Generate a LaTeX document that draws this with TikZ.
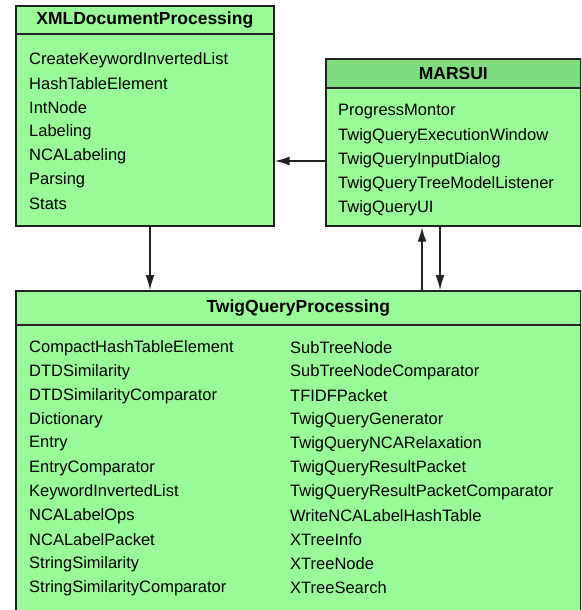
\documentclass[tikz,border=0pt]{standalone}
\usepackage{fontspec}
\setmainfont{Liberation Sans}
\usetikzlibrary{arrows.meta}
\definecolor{pkgfill}{HTML}{98FB98}
\definecolor{pkghead}{HTML}{7EDD7E}
\definecolor{pkgline}{HTML}{222222}
\tikzset{
pkg_box/.style={
	% The shape:
	rectangle,
	anchor=north west,
	inner sep=0pt,
	% The border:
	line width=1.6pt,
	draw=pkgline,
	% The filling:
	fill=pkgfill,
	% Font for the package name
	font=\bfseries\fontsize{17.5}{19}\selectfont
},
pkg_item/.style={anchor=west, inner sep=0pt, font=\fontsize{16.5}{18}\selectfont},
dep/.style={line width=1.6pt, draw=pkgline, -{Latex[length=15pt,width=9pt]}}
}

\begin{document}
\begin{tikzpicture}[x=1pt, y=-1pt]
			\path[use as bounding box, clip] (0,0) rectangle (581,610);

			% XMLDocumentProcessing
			\node[pkg_box, minimum width=258pt, minimum height=28pt] (xmlhead) at (15,5) {XMLDocumentProcessing};
			\node[pkg_box, minimum width=258pt, minimum height=192pt] (xmlbody) at (15,33) {};
			\foreach \name [count=\i] in {CreateKeywordInvertedList, HashTableElement, IntNode,
				Labeling, NCALabeling, Parsing, Stats}
				\node[pkg_item] (xml-\i) at (29, 36+24*\i) {\name};

			% MARSUI
			\node[pkg_box, fill=pkghead, minimum width=255pt, minimum height=29pt] (uihead) at (325,58) {MARSUI};
			\node[pkg_box, minimum width=255pt, minimum height=138pt] (uibody) at (325,87) {};
			\foreach \name [count=\i] in {ProgressMontor, TwigQueryExecutionWindow, TwigQueryInputDialog,
				TwigQueryTreeModelListener, TwigQueryUI}
				\node[pkg_item] (ui-\i) at (338, 88+24*\i) {\name};

			% TwigQueryProcessing, runs off the bottom
			\node[pkg_box, minimum width=565pt, minimum height=34pt] (twighead) at (15,290) {TwigQueryProcessing};
			\node[pkg_box, minimum width=565pt, minimum height=300pt] (twigbody) at (15,324) {};
			\foreach \name [count=\i] in {CompactHashTableElement, DTDSimilarity, DTDSimilarityComparator,
				Dictionary, Entry, EntryComparator, KeywordInvertedList, NCALabelOps, NCALabelPacket,
				StringSimilarity, StringSimilarityComparator}
				\node[pkg_item] (twa-\i) at (29, 324+24*\i) {\name};
			\foreach \name [count=\i] in {SubTreeNode, SubTreeNodeComparator, TFIDFPacket,
				TwigQueryGenerator, TwigQueryNCARelaxation, TwigQueryResultPacket,
				TwigQueryResultPacketComparator, WriteNCALabelHashTable, XTreeInfo, XTreeNode, XTreeSearch}
				\node[pkg_item] (twb-\i) at (290, 324+24*\i) {\name};

			% dependencies
			\coordinate (xmlout) at ([xshift=135pt]xmlbody.south west);
			\coordinate (uiin) at ([xshift=97pt]uibody.south west);
			\coordinate (uiout) at ([xshift=115pt]uibody.south west);
			\coordinate (uiside) at ([yshift=-74pt]uibody.north west);

			\draw[dep] (xmlout) -- (xmlout |- twighead.north);
			\draw[dep, line width=2.4pt] (uiin |- twighead.north) -- (uiin);
			\draw[dep] (uiout) -- (uiout |- twighead.north);
			\draw[dep] (uiside) -- (uiside -| xmlbody.east);
		\end{tikzpicture}
\end{document}
